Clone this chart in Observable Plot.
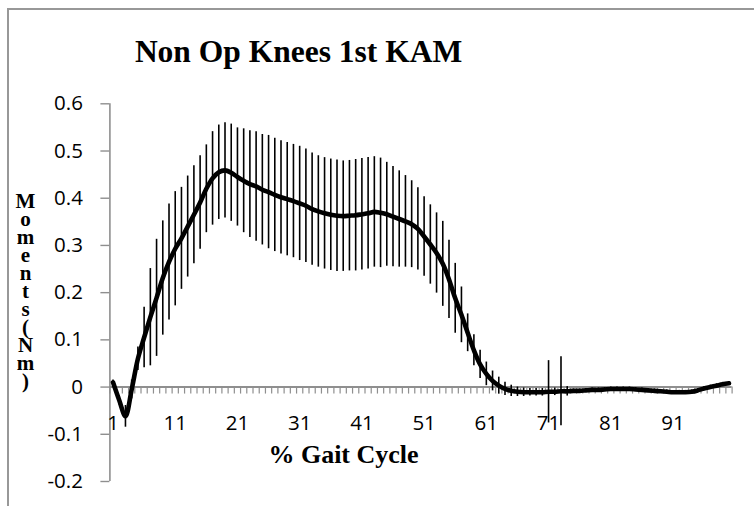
<!DOCTYPE html>
<html>
<head>
<meta charset="utf-8">
<script src="https://cdn.jsdelivr.net/npm/d3@7"></script>
<script src="https://cdn.jsdelivr.net/npm/@observablehq/plot@0.6"></script>
<style>
  html, body { margin: 0; padding: 0; background: #fff; }
  #wrap { position: relative; width: 754px; height: 506px; overflow: hidden; }
  #border { position: absolute; left: 7px; top: 8px; width: 800px; height: 600px;
            border-top: 2px solid #989898; border-left: 2px solid #989898; box-sizing: border-box; }
  #chart { position: absolute; left: 0; top: 0; }
</style>
</head>
<body>
<div id="wrap"><div id="border"></div><div id="chart"></div></div>
<script>
// ---- data ----
const chartTitle = "Non Op Knees 1st KAM";
const xTitle = "% Gait Cycle";
const yTitle = "Moments (Nm)";
const categories = d3.range(1, 101); // % gait cycle categories 1..100
const xTickLabels = [1, 11, 21, 31, 41, 51, 61, 71, 81, 91];
const yTicks = [-0.2, -0.1, 0, 0.1, 0.2, 0.3, 0.4, 0.5, 0.6];

const meanKAM = [
  0.010, -0.028, -0.062, -0.005, 0.060, 0.105, 0.148, 0.189, 0.231, 0.265,
  0.293, 0.315, 0.340, 0.365, 0.391, 0.420, 0.442, 0.455, 0.459, 0.454,
  0.445, 0.437, 0.430, 0.425, 0.418, 0.413, 0.407, 0.402, 0.398, 0.394,
  0.389, 0.384, 0.377, 0.372, 0.368, 0.365, 0.363, 0.362, 0.363, 0.364,
  0.366, 0.368, 0.371, 0.369, 0.366, 0.361, 0.356, 0.351, 0.345, 0.335,
  0.319, 0.302, 0.284, 0.261, 0.228, 0.188, 0.153, 0.115, 0.078, 0.048,
  0.028, 0.013, 0.003, -0.004, -0.008, -0.010, -0.011, -0.011, -0.011, -0.011,
  -0.010, -0.010, -0.009, -0.009, -0.008, -0.008, -0.007, -0.006, -0.006, -0.005,
  -0.004, -0.004, -0.004, -0.004, -0.005, -0.006, -0.007, -0.008, -0.009, -0.010,
  -0.011, -0.011, -0.011, -0.010, -0.007, -0.003, 0.000, 0.003, 0.006, 0.008
];
const sdKAM = [
  0.005, 0.010, 0.023, 0.020, 0.025, 0.064, 0.103, 0.124, 0.121, 0.123,
  0.121, 0.108, 0.107, 0.104, 0.099, 0.093, 0.099, 0.100, 0.101, 0.103,
  0.104, 0.110, 0.113, 0.116, 0.117, 0.120, 0.120, 0.120, 0.120, 0.120,
  0.121, 0.120, 0.119, 0.118, 0.118, 0.118, 0.118, 0.117, 0.117, 0.118,
  0.118, 0.118, 0.117, 0.116, 0.110, 0.106, 0.102, 0.097, 0.092, 0.087,
  0.084, 0.084, 0.085, 0.090, 0.083, 0.074, 0.059, 0.040, 0.033, 0.030,
  0.025, 0.021, 0.018, 0.014, 0.012, 0.010, 0.009, 0.008, 0.008, 0.008,
  0.066, 0.008, 0.073, 0.010, 0.004, 0.004, 0.004, 0.004, 0.004, 0.004,
  0.004, 0.004, 0.004, 0.004, 0.004, 0.004, 0.004, 0.004, 0.004, 0.004,
  0.004, 0.004, 0.004, 0.004, 0.004, 0.004, 0.004, 0.004, 0.004, 0.004
];

// ---- build table ----
const data = categories.map((c, i) => ({x: c, m: meanKAM[i], sd: sdKAM[i]}));
const boundaries = categories.map(c => c - 0.5).concat([categories[categories.length - 1] + 0.5]);

const gray = "#8f8f8f";
const serif = "'Liberation Serif', 'Times New Roman', serif";
const sans = "'Open Sans', Lato, sans-serif";

const chart = Plot.plot({
  width: 754,
  height: 506,
  marginLeft: 109.4,
  marginRight: 22.4,
  marginTop: 103.3,
  marginBottom: 25,
  style: {background: "transparent", fontFamily: sans, fontSize: "20.5px", color: "black", overflow: "visible"},
  x: {domain: [0.5, 100.5], axis: null},
  y: {domain: [-0.2, 0.6], axis: null},
  marks: [
    // y axis line & ticks
    Plot.ruleX([0.5], {stroke: gray, strokeWidth: 1.6}),
    Plot.axisY({
      ticks: yTicks, tickSize: 9, tickPadding: 18, label: null,
      tickFormat: d => String(+d.toFixed(1)),
      stroke: gray, strokeWidth: 1.4, fill: "black",
      fontFamily: sans, fontSize: 20.5
    }),
    // x axis line at zero with category tick marks
    Plot.ruleY([0], {stroke: gray, strokeWidth: 2}),
    Plot.ruleX(boundaries, {x: d => d, y1: 0, y2: 0, insetBottom: -7, stroke: gray, strokeWidth: 1.2}),
    // error bars
    Plot.ruleX(data, {x: "x", y1: d => d.m - d.sd, y2: d => d.m + d.sd, stroke: "black", strokeWidth: 1.6}),
    // mean curve
    Plot.line(data, {x: "x", y: "m", curve: "catmull-rom", stroke: "black", strokeWidth: 4.6, strokeLinejoin: "round"}),
    // x tick labels
    Plot.text(xTickLabels, {x: d => d, y: 0, text: d => String(d), dy: 36, fontFamily: sans, fontSize: 20.5, fill: "black"}),
    // titles
    Plot.text([chartTitle], {frameAnchor: "top-left", dx: 188.6, dy: -42.3, lineAnchor: "bottom", textAnchor: "middle",
      fontFamily: serif, fontWeight: "bold", fontSize: 31.5, fill: "black"}),
    Plot.text([xTitle], {frameAnchor: "bottom-left", dx: 233.6, dy: -19, lineAnchor: "bottom", textAnchor: "middle",
      fontFamily: serif, fontWeight: "bold", fontSize: 26, fill: "black"}),
    Plot.text([yTitle.split("").filter(ch => ch !== " ").join("\n")], {frameAnchor: "top-left", dx: -84.4, dy: 91,
      lineAnchor: "top", textAnchor: "middle", lineHeight: 0.86,
      fontFamily: serif, fontWeight: "bold", fontSize: 21, fill: "black"})
  ]
});
document.getElementById("chart").appendChild(chart);
</script>
</body>
</html>
